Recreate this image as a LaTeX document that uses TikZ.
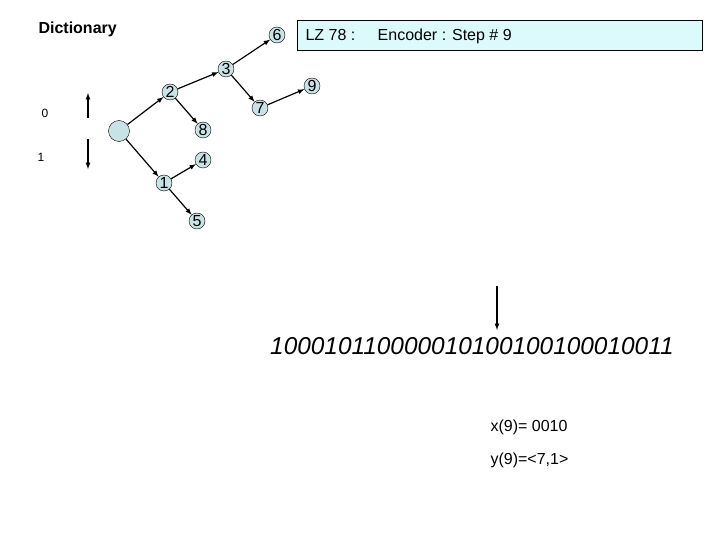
\documentclass[tikz,border=0pt]{standalone}
\usepackage{fontspec}
\setmainfont{Liberation Sans}
\definecolor{nfill}{RGB}{200,226,230}
\definecolor{bfill}{RGB}{220,250,252}
\begin{document}
\begin{tikzpicture}[x=1pt,y=-1pt,
  nd/.style={circle,draw,fill=nfill,inner sep=0pt,minimum size=16pt,font=\fontsize{16}{16}\selectfont},
  ar/.style={-latex,line width=1.2pt}]
\useasboundingbox (0,0) rectangle (720,540);
\node[font=\bfseries\fontsize{16}{18}\selectfont,anchor=west] (t) at (35,29) {Dictionary};
\node[draw,fill=bfill,minimum width=405pt,minimum height=30pt,anchor=west,line width=0.4pt] (box) at (297,35) {};
\node[anchor=west,font=\fontsize{16}{18}\selectfont] (bt) at (302,36) {LZ 78 :\hspace{1.4em}Encoder : Step \# 9};
\node[nd,minimum size=21pt] (r) at (119,131) {};
\node[nd] (n2) at (170,92) {2};
\node[nd] (n3) at (226,69) {3};
\node[nd] (n6) at (277,35) {6};
\node[nd] (n7) at (260,108) {7};
\node[nd] (n9) at (312,86) {9};
\node[nd] (n8) at (203,130) {8};
\node[nd] (n4) at (203,160) {4};
\node[nd] (n1) at (164,183) {1};
\node[nd] (n5) at (197,221) {5};
\draw[ar] (r) -- (n2);
\draw[ar] (n2) -- (n3);
\draw[ar] (n3) -- (n6);
\draw[ar] (n3) -- (n7);
\draw[ar] (n7) -- (n9);
\draw[ar] (n2) -- (n8);
\draw[ar] (r) -- (n1);
\draw[ar] (n1) -- (n4);
\draw[ar] (n1) -- (n5);
\node[font=\fontsize{12}{14}\selectfont] (z) at (45,113) {0};
\node[font=\fontsize{12}{14}\selectfont] (o) at (41,157) {1};
\coordinate (a1) at (88,118); \coordinate (a2) at (88,93);
\coordinate (b1) at (88,139); \coordinate (b2) at (88,169);
\draw[ar] (a1) -- (a2);
\draw[ar] (b1) -- (b2);
\node[font=\itshape\fontsize{24.4}{27}\selectfont,anchor=west,inner sep=0pt] (bits) at (270,346) {10001011000001010010010001\kern0pt 0011};
\coordinate (c1) at (497,286); \coordinate (c2) at (497,330);
\draw[-latex,line width=1.2pt] (c1) -- (c2);
\node[font=\fontsize{16}{18}\selectfont,anchor=west] (x) at (487,427) {x(9)= 0010};
\node[font=\fontsize{16}{18}\selectfont,anchor=west] (y) at (487,460) {y(9)=<7,1>};
\end{tikzpicture}
\end{document}
